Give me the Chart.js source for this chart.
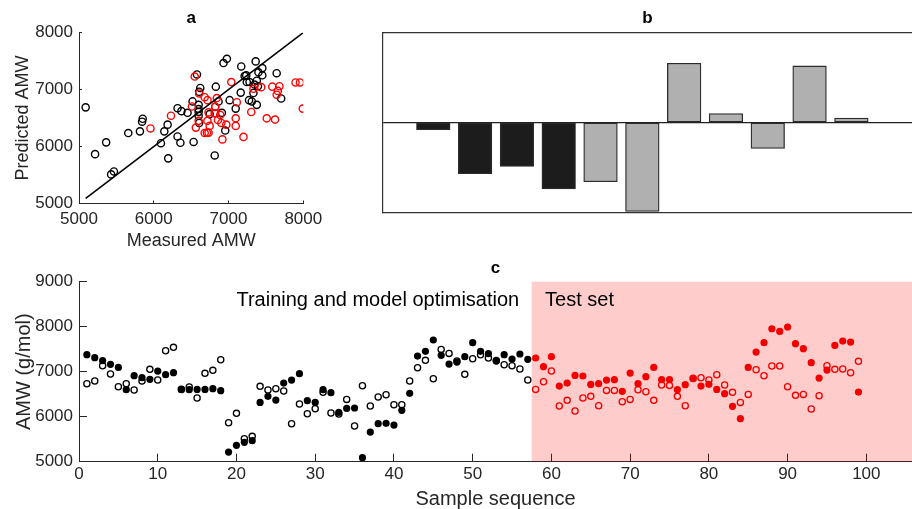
<!DOCTYPE html>
<html>
<head>
<meta charset="utf-8">
<title>AMW prediction</title>
<script src="https://cdn.jsdelivr.net/npm/chart.js@4.4.1/dist/chart.umd.min.js"></script>
<style>
    html, body { margin: 0; padding: 0; background: #fff; }
    body { width: 912px; height: 509px; position: relative; overflow: hidden; }
    canvas { position: absolute; }
</style>
</head>
<body>
<canvas id="chartA" width="340" height="252" style="left:0px;top:0px"></canvas>
<canvas id="chartB" width="542" height="230" style="left:370px;top:0px"></canvas>
<canvas id="chartC" width="912" height="257" style="left:0px;top:252px"></canvas>
<script>
// Sample sequence 1..99, first 57 used for training, the rest is the test set
const sampleNo = Array.from({ length: 99 }, (_, i) => i + 1);
const testStart = 58;
const testShadeFrom = 57.5;

// filled markers (panel c) = x of panel a
const measuredAMW = [
    7378, 7311, 7244, 7163, 7096, 6600, 6911, 6867, 6830, 7015,
    6933, 6978, 6600, 6600, 6607, 6607, 6622, 6578, 5215, 5363,
    5430, 5467, 6318, 6452, 6370, 6748, 6815, 6956, 6356, 6318,
    6600, 6533, 6096, 6185, 6193, 5089, 5659, 5844, 5852, 5815,
    6141, 6519, 7348, 7452, 7704, 7363, 7170, 7215, 7333, 7644,
    7452, 7400, 7237, 7378, 7281, 7393, 7274, 7304, 7111, 7333,
    6681, 6748, 6918, 6904, 6718, 6733, 6815, 6822, 6563, 6970,
    6733, 6889, 7096, 6822, 6822, 6600, 6711, 6844, 6681, 6719,
    6607, 6511, 6230, 5956, 7096, 7437, 7644, 7955, 7896, 7993,
    7622, 7511, 7200, 6859, 7037, 7585, 7681, 7659, 6548
];

// open markers (panel c) = y of panel a
const predictedAMW = [
    6733, 6793, 7133, 6948, 6667, 6733, 6593, 6793, 7052, 6815,
    7467, 7541, 6610, 6659, 6415, 6963, 7030, 7267, 5867, 6074,
    5511, 5563, 6674, 6593, 6622, 6570, 5844, 6281, 6067, 6178,
    6541, 6081, 6059, 6385, 5793, 6689, 6237, 6437, 6489, 6267,
    6267, 6793, 7089, 7252, 6844, 7496, 7407, 7240, 6941, 7289,
    7378, 7304, 7250, 7156, 7133, 7059, 6815, 6607, 6778, 7015,
    6237, 6363, 6126, 6415, 6452, 6244, 6585, 6585, 6333, 6385,
    6600, 6556, 6363, 6704, 6696, 6452, 6244, 6852, 6867, 6815,
    6933, 6704, 6541, 6318, 6496, 7044, 6911, 7126, 7126, 6667,
    6474, 6496, 6170, 6467, 7133, 7052, 7059, 6978, 7230
];

const identityLine = [5090, 8000];

// panel b: relative bar heights (no scale shown)
const barValues = [-0.08, -0.57, -0.49, -0.74, -0.66, -0.99, 0.66, 0.10, -0.29, 0.63, 0.05];
const barGroup = ['dark', 'dark', 'dark', 'dark', 'grey', 'grey', 'grey', 'grey', 'grey', 'grey', 'grey'];

document.addEventListener("DOMContentLoaded", () => {
    const ink = '#262626';
    const fontFamily = "'Liberation Sans', Arial, Helvetica, sans-serif";
    Chart.defaults.font.family = fontFamily;
    Chart.defaults.color = ink;
    Chart.defaults.animation = false;

    const samples = sampleNo.map((n, i) => ({ n, measured: measuredAMW[i], predicted: predictedAMW[i] }));
    const train = samples.filter(s => s.n < testStart);
    const test = samples.filter(s => s.n >= testStart);

    const plain = v => String(v);   // no thousands separator
    const panelTitle = (text) => ({
        display: true,
        text,
        fullSize: false,
        color: '#000',
        font: { size: 17, weight: 'bold' },
        padding: { top: 8.3, bottom: 4 }
    });
    const noExtras = { legend: { display: false }, tooltip: { enabled: false } };
    // fixed axis box sizes, and no extra label overhang padding
    const fixWidth = w => s => { s.width = w; s.paddingTop = 0; s.paddingBottom = 0; };
    const fixHeight = h => s => { s.height = h; s.paddingLeft = 0; s.paddingRight = 0; };

    // ---- a: measured vs predicted ----
    new Chart(document.getElementById("chartA"), {
        type: "scatter",
        data: {
            datasets: [
                {
                    data: identityLine.map(v => ({ x: v, y: v })),
                    showLine: true,
                    borderColor: '#000',
                    borderWidth: 1.5,
                    pointRadius: 0
                },
                {
                    data: test.map(s => ({ x: s.measured, y: s.predicted })),
                    pointRadius: 3.6,
                    borderWidth: 1.4,
                    borderColor: '#ff0000',
                    backgroundColor: 'rgba(0,0,0,0)'
                },
                {
                    data: train.map(s => ({ x: s.measured, y: s.predicted })),
                    pointRadius: 3.6,
                    borderWidth: 1.4,
                    borderColor: '#000',
                    backgroundColor: 'rgba(0,0,0,0)'
                }
            ]
        },
        options: {
            responsive: false,
            layout: { autoPadding: false, padding: { left: 0, right: 36.7, top: 0, bottom: 0 } },
            plugins: { ...noExtras, title: panelTitle('a') },
            scales: {
                x: {
                    type: 'linear', min: 5000, max: 8000,
                    ticks: { stepSize: 1000, padding: 8.3, font: { size: 17 }, maxRotation: 0, autoSkip: false, callback: plain },
                    grid: { drawOnChartArea: false, tickLength: -3, color: ink },
                    border: { color: ink, width: 1 },
                    title: { display: true, text: 'Measured AMW', font: { size: 18, lineHeight: 1 }, padding: { top: 0, bottom: 2 } },
                    afterFit: fixHeight(48.5)
                },
                y: {
                    type: 'linear', min: 5000, max: 8000,
                    ticks: { stepSize: 1000, padding: 9, font: { size: 17 }, callback: plain },
                    grid: { drawOnChartArea: false, tickLength: -3, color: ink },
                    border: { color: ink, width: 1 },
                    title: { display: true, text: 'Predicted AMW', font: { size: 18, lineHeight: 1 }, padding: { top: 14, bottom: 0 } },
                    afterFit: fixWidth(79)
                }
            }
        }
    });

    // ---- b: bar panel ----
    new Chart(document.getElementById("chartB"), {
        type: "bar",
        data: {
            datasets: [{
                data: barValues.map((v, i) => ({ x: i + 1, y: v })),
                backgroundColor: barGroup.map(g => g === 'dark' ? '#1c1c1c' : '#b0b0b0'),
                borderColor: '#2b2b2b',
                borderWidth: 1.3,
                borderSkipped: false,
                barThickness: 33.6
            }]
        },
        options: {
            responsive: false,
            layout: { autoPadding: false, padding: 0 },
            plugins: { ...noExtras, title: panelTitle('b') },
            scales: {
                x: {
                    type: 'linear', min: -0.21, max: 12.45, offset: false,
                    ticks: { display: false },
                    grid: { display: false },
                    border: { display: true, color: '#333', width: 1.2 },
                    afterFit: fixHeight(17.7)
                },
                xTop: {
                    type: 'linear', position: 'top', min: -0.21, max: 12.45, offset: false,
                    ticks: { display: false },
                    grid: { display: false },
                    border: { display: true, color: '#333', width: 1.2 },
                    afterFit: fixHeight(0)
                },
                y: {
                    min: -1, max: 1,
                    ticks: { display: false, stepSize: 0.5 },
                    grid: {
                        drawTicks: false,
                        lineWidth: 1.2,
                        color: c => c.tick && c.tick.value === 0 ? '#222' : 'rgba(0,0,0,0)'
                    },
                    border: { color: '#333', width: 1.2 },
                    afterFit: fixWidth(12.7)
                }
            }
        }
    });

    // ---- c: sample sequence ----
    const decorC = {
        id: 'decorC',
        beforeDatasetsDraw(chart) {
            const { ctx, chartArea, scales: { x, y } } = chart;
            const left = x.getPixelForValue(testShadeFrom);
            ctx.save();
            ctx.fillStyle = 'rgba(255, 0, 0, 0.2)';
            ctx.fillRect(left, chartArea.top, chartArea.right - left, chartArea.bottom - chartArea.top);
            ctx.fillStyle = '#000';
            ctx.font = "20px " + fontFamily;
            ctx.textBaseline = 'middle';
            ctx.textAlign = 'left';
            ctx.fillText('Training and model optimisation', x.getPixelForValue(20), y.getPixelForValue(8590));
            ctx.fillText('Test set', x.getPixelForValue(59.2), y.getPixelForValue(8590));
            ctx.restore();
        }
    };

    const filled = (rows, colour) => ({
        data: rows.map(s => ({ x: s.n, y: s.measured })),
        pointRadius: 3.6,
        borderWidth: 0,
        backgroundColor: colour,
        borderColor: colour
    });
    const open = (rows, colour) => ({
        data: rows.map(s => ({ x: s.n, y: s.predicted })),
        pointRadius: 3.1,
        borderWidth: 1.3,
        backgroundColor: 'rgba(0,0,0,0)',
        borderColor: colour
    });

    new Chart(document.getElementById("chartC"), {
        type: "scatter",
        data: {
            datasets: [
                filled(test, '#f20000'),
                filled(train, '#000'),
                open(test, '#f20000'),
                open(train, '#000')
            ]
        },
        options: {
            responsive: false,
            layout: { autoPadding: false, padding: 0 },
            plugins: {
                ...noExtras,
                title: { ...panelTitle('c'), padding: { top: 5.8, bottom: 3.5 } }
            },
            scales: {
                x: {
                    type: 'linear', min: 0, max: 105.8,
                    ticks: { stepSize: 10, includeBounds: false, padding: 10.6, font: { size: 17 }, maxRotation: 0, autoSkip: false, callback: plain },
                    grid: { drawOnChartArea: false, tickLength: -8, color: ink },
                    border: { color: ink, width: 1 },
                    title: { display: true, text: 'Sample sequence', font: { size: 20, lineHeight: 1 }, padding: { top: 0, bottom: 0 } },
                    afterFit: fixHeight(47.3)
                },
                y: {
                    type: 'linear', min: 5000, max: 9000,
                    ticks: { stepSize: 1000, padding: 14, font: { size: 17 }, callback: plain },
                    grid: { drawOnChartArea: false, tickLength: -8, color: ink },
                    border: { color: ink, width: 1 },
                    title: { display: true, text: 'AMW (g/mol)', font: { size: 20, lineHeight: 1 }, padding: { top: 14, bottom: 0 } },
                    afterFit: fixWidth(79)
                }
            }
        },
        plugins: [decorC]
    });
});
</script>
</body>
</html>
